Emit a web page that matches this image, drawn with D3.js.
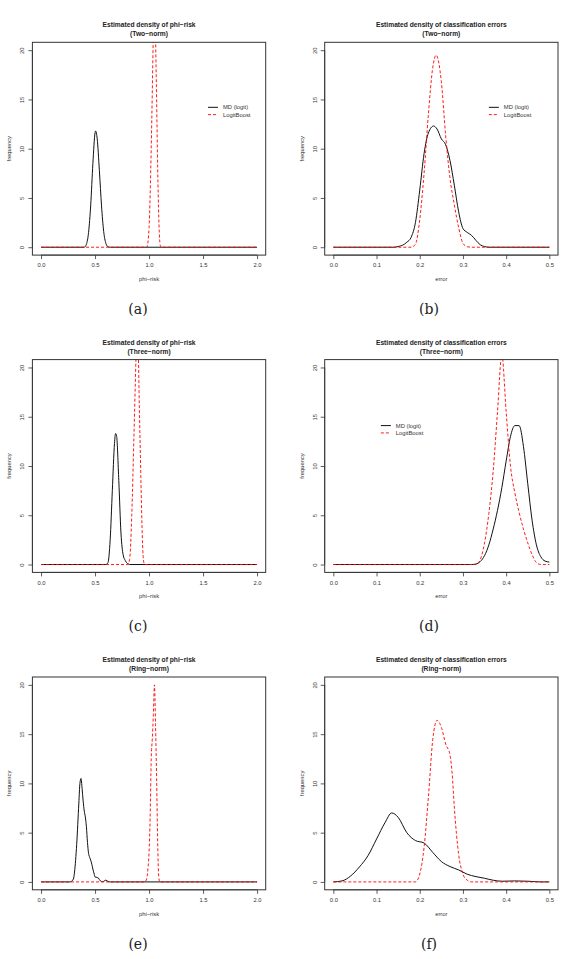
<!DOCTYPE html>
<html>
<head>
  <script src="https://d3js.org/d3.v7.min.js"></script>
  <style>
    body { margin: 0; background: #fff; }
    svg { display: block; }
    .axis text { font: 5.8px "Liberation Sans", Arial, sans-serif; fill: #333; }
    .axis path, .axis line { fill: none; stroke: #333; stroke-width: 0.8; }
    .title { font: bold 6.7px "Liberation Sans", Arial, sans-serif; fill: #222; text-anchor: middle; }
    .lab { font: 5.8px "Liberation Sans", Arial, sans-serif; fill: #333; text-anchor: middle; }
    .leg { font: 5.8px "Liberation Sans", Arial, sans-serif; fill: #333; }
    .sub { font: 14px "DejaVu Serif", serif; fill: #222; text-anchor: middle; }
    .box { fill: none; stroke: #333; stroke-width: 1; }
    .md { fill: none; stroke: #111; stroke-width: 1; }
    .lb { fill: none; stroke: #f00; stroke-width: 0.9; stroke-dasharray: 3,2; }
  </style>
</head>
<body>
  <svg class="chart"></svg>
  <script>
    // density estimates, [x, density]
    var twoPhiMD = [[0, 0], [0.40, 0], [0.42, 0.3], [0.44, 1.5], [0.46, 4.3], [0.48, 8.5], [0.50, 11.6],
      [0.505, 11.8], [0.52, 11.0], [0.54, 7.8], [0.56, 4.2], [0.58, 1.6], [0.60, 0.4], [0.62, 0.05], [0.64, 0], [2, 0]];
    var twoPhiLB = [[0, 0], [0.98, 0], [1.00, 2], [1.02, 10], [1.04, 22], [1.05, 28], [1.06, 21.5],
      [1.07, 15], [1.08, 8], [1.09, 3], [1.10, 0.5], [1.11, 0], [2, 0]];

    var twoErrMD = [[0, 0], [0.14, 0], [0.15, 0.07], [0.16, 0.2], [0.17, 0.5], [0.18, 1.0], [0.19, 2.5], [0.20, 5.8],
      [0.21, 9.5], [0.22, 11.6], [0.232, 12.3], [0.24, 12.0], [0.25, 11.0], [0.26, 10.4], [0.27, 8.8],
      [0.28, 6.3], [0.29, 3.6], [0.30, 1.9], [0.31, 1.5], [0.32, 1.2], [0.33, 0.7], [0.34, 0.25],
      [0.35, 0.07], [0.36, 0], [0.5, 0]];
    var twoErrLB = [[0, 0], [0.18, 0], [0.19, 0.3], [0.20, 2.8], [0.21, 7.5], [0.22, 13.5], [0.23, 18.2],
      [0.238, 19.5], [0.25, 16.8], [0.26, 11.3], [0.27, 7.0], [0.28, 4.3], [0.29, 2.0], [0.30, 0.4],
      [0.31, 0.05], [0.32, 0], [0.5, 0]];

    var threePhiMD = [[0, 0], [0.60, 0], [0.62, 0.2], [0.64, 2.5], [0.66, 7.5], [0.68, 12.3], [0.69, 13.3],
      [0.70, 13.0], [0.72, 8.5], [0.74, 3.2], [0.76, 1.0], [0.78, 0.4], [0.80, 0.1], [0.82, 0], [2, 0]];
    var threePhiLB = [[0, 0], [0.80, 0], [0.82, 0.5], [0.84, 5], [0.86, 13], [0.88, 21.5], [0.89, 26],
      [0.90, 22], [0.91, 16], [0.92, 11], [0.93, 6], [0.94, 2], [0.95, 0.3], [0.96, 0], [2, 0]];

    var threeErrMD = [[0, 0], [0.32, 0], [0.33, 0.05], [0.34, 0.3], [0.35, 0.9], [0.36, 2.0], [0.37, 3.6],
      [0.38, 5.5], [0.39, 7.8], [0.40, 10.5], [0.41, 13.0], [0.42, 14.1], [0.43, 14.1], [0.44, 12.0],
      [0.45, 8.2], [0.46, 4.5], [0.47, 2.0], [0.48, 0.8], [0.49, 0.35], [0.50, 0.25]];
    var threeErrLB = [[0, 0], [0.33, 0], [0.34, 0.5], [0.35, 2.2], [0.36, 5.2], [0.37, 9.5], [0.38, 15.5],
      [0.39, 21.3], [0.40, 15.5], [0.41, 10.0], [0.42, 7.3], [0.43, 5.3], [0.44, 3.6], [0.45, 2.2],
      [0.46, 1.0], [0.47, 0.2], [0.48, 0], [0.5, 0]];

    var ringPhiMD = [[0, 0], [0.27, 0], [0.30, 0.3], [0.31, 1.0], [0.33, 3.8], [0.35, 8.0], [0.36, 10.0],
      [0.37, 10.5], [0.38, 9.5], [0.39, 8.2], [0.40, 7.2], [0.41, 6.6], [0.42, 5.6], [0.43, 4.0],
      [0.44, 2.9], [0.45, 2.5], [0.46, 2.2], [0.47, 1.8], [0.48, 1.3], [0.49, 0.9], [0.50, 0.5],
      [0.52, 0.45], [0.53, 0.4], [0.55, 0.1], [0.57, 0.02], [0.60, 0.18], [0.62, 0.05], [0.64, 0], [2, 0]];
    var ringPhiLB = [[0, 0], [0.96, 0], [0.98, 0.4], [0.99, 1.4], [1.00, 3.0], [1.01, 6.5], [1.02, 12.5],
      [1.03, 14.5], [1.04, 17], [1.05, 20.0], [1.06, 16], [1.07, 10.5], [1.08, 4.0], [1.09, 0.5],
      [1.10, 0], [2, 0]];

    var ringErrMD = [[0, 0], [0.02, 0.1], [0.04, 0.6], [0.06, 1.5], [0.08, 2.65], [0.10, 4.35], [0.12, 6.05],
      [0.135, 7.0], [0.15, 6.56], [0.17, 5.0], [0.19, 4.2], [0.21, 3.95], [0.23, 3.0], [0.25, 2.07],
      [0.27, 1.56], [0.29, 1.22], [0.31, 0.78], [0.33, 0.54], [0.35, 0.37], [0.37, 0.17], [0.39, 0.07],
      [0.42, 0.1], [0.45, 0.07], [0.48, 0], [0.5, 0]];
    var ringErrLB = [[0, 0], [0.19, 0], [0.20, 0.8], [0.21, 3.5], [0.22, 8.6], [0.23, 14.4], [0.24, 16.4],
      [0.25, 15.7], [0.26, 14.0], [0.27, 12.9], [0.275, 11], [0.28, 7.6], [0.29, 2.8], [0.30, 0.8],
      [0.31, 0.17], [0.32, 0], [0.5, 0]];

    var phiTicks = [0, 0.5, 1, 1.5, 2];
    var errTicks = [0, 0.1, 0.2, 0.3, 0.4, 0.5];
    var yTicks = [0, 5, 10, 15, 20];
    var seriesNames = ['MD (logit)', 'LogitBoost'];

    var panels = [
      { sub: '(a)', col: 0, row: 0, title: 'Estimated density of phi\u2212risk', set: '(Two\u2212norm)', xlab: 'phi\u2212risk', ticks: phiTicks, md: twoPhiMD, lb: twoPhiLB, legend: [1.546, 14.2] },
      { sub: '(b)', col: 1, row: 0, title: 'Estimated density of classification errors', set: '(Two\u2212norm)', xlab: 'error', ticks: errTicks, md: twoErrMD, lb: twoErrLB, legend: [0.36, 14.2] },
      { sub: '(c)', col: 0, row: 1, title: 'Estimated density of phi\u2212risk', set: '(Three\u2212norm)', xlab: 'phi\u2212risk', ticks: phiTicks, md: threePhiMD, lb: threePhiLB },
      { sub: '(d)', col: 1, row: 1, title: 'Estimated density of classification errors', set: '(Three\u2212norm)', xlab: 'error', ticks: errTicks, md: threeErrMD, lb: threeErrLB, legend: [0.11, 14.1] },
      { sub: '(e)', col: 0, row: 2, title: 'Estimated density of phi\u2212risk', set: '(Ring\u2212norm)', xlab: 'phi\u2212risk', ticks: phiTicks, md: ringPhiMD, lb: ringPhiLB },
      { sub: '(f)', col: 1, row: 2, title: 'Estimated density of classification errors', set: '(Ring\u2212norm)', xlab: 'error', ticks: errTicks, md: ringErrMD, lb: ringErrLB }
    ];

    var W = 565, H = 959;
    var colLeft = [32.4, 324.7], boxW = 233.3, boxH = 212.8;
    var rowTop = [42.3, 359.6, 677];
    var subCx = [138, 429];

    var svg = d3.select('.chart').attr('width', W).attr('height', H);

    panels.forEach(function (p, i) {
      var x0 = colLeft[p.col], y0 = rowTop[p.row];
      var xmax = p.ticks[p.ticks.length - 1];
      var x = d3.scaleLinear().domain([-0.04 * xmax, 1.04 * xmax]).range([x0, x0 + boxW]);
      var y = d3.scaleLinear().domain([-0.8, 20.8]).range([y0 + boxH, y0]);

      var g = svg.append('g');

      g.append('clipPath').attr('id', 'clip' + i)
        .append('rect').attr('x', x0).attr('y', y0).attr('width', boxW).attr('height', boxH);

      var line = d3.line()
        .x(function (d) { return x(d[0]); })
        .y(function (d) { return y(d[1]); })
        .curve(d3.curveMonotoneX);

      var curves = g.append('g').attr('clip-path', 'url(#clip' + i + ')');
      curves.append('path').attr('class', 'md').attr('d', line(p.md));
      curves.append('path').attr('class', 'lb').attr('d', line(p.lb));

      g.append('rect').attr('class', 'box')
        .attr('x', x0).attr('y', y0).attr('width', boxW).attr('height', boxH);

      var xAxis = d3.axisBottom(x).tickValues(p.ticks).tickFormat(d3.format('.1f'))
        .tickSize(4).tickSizeOuter(0).tickPadding(4);
      var gx = g.append('g').attr('class', 'x axis')
        .attr('transform', 'translate(0,' + (y0 + boxH) + ')')
        .call(xAxis);
      gx.select('.domain').attr('d', 'M' + x(0) + ',0H' + x(xmax));

      var yAxis = d3.axisLeft(y).tickValues(yTicks).tickSize(4).tickSizeOuter(0);
      var gy = g.append('g').attr('class', 'y axis')
        .attr('transform', 'translate(' + x0 + ',0)')
        .call(yAxis);
      gy.select('.domain').attr('d', 'M0,' + y(0) + 'V' + y(20));
      gy.selectAll('text')
        .attr('x', null).attr('dy', null)
        .attr('text-anchor', 'middle')
        .attr('transform', 'translate(-8,0) rotate(-90)');

      var cx = x0 + boxW / 2;
      g.append('text').attr('class', 'title').attr('x', cx).attr('y', y0 - 15).text(p.title);
      g.append('text').attr('class', 'title').attr('x', cx).attr('y', y0 - 6).text(p.set);
      g.append('text').attr('class', 'lab').attr('x', cx).attr('y', y0 + boxH + 26).text(p.xlab);
      g.append('text').attr('class', 'lab')
        .attr('transform', 'translate(' + (x0 - 21) + ',' + (y0 + boxH / 2) + ') rotate(-90)')
        .text('frequency');

      if (p.legend) {
        var lx = x(p.legend[0]), ly = y(p.legend[1]);
        seriesNames.forEach(function (name, k) {
          var yy = ly + k * 7.3;
          g.append('line').attr('class', k === 0 ? 'md' : 'lb')
            .attr('x1', lx).attr('x2', lx + 10).attr('y1', yy).attr('y2', yy);
          g.append('text').attr('class', 'leg').attr('x', lx + 15).attr('y', yy + 2).text(name);
        });
      }

      g.append('text').attr('class', 'sub').attr('x', subCx[p.col]).attr('y', y0 + boxH + 59).text(p.sub);
    });
  </script>
</body>
</html>
